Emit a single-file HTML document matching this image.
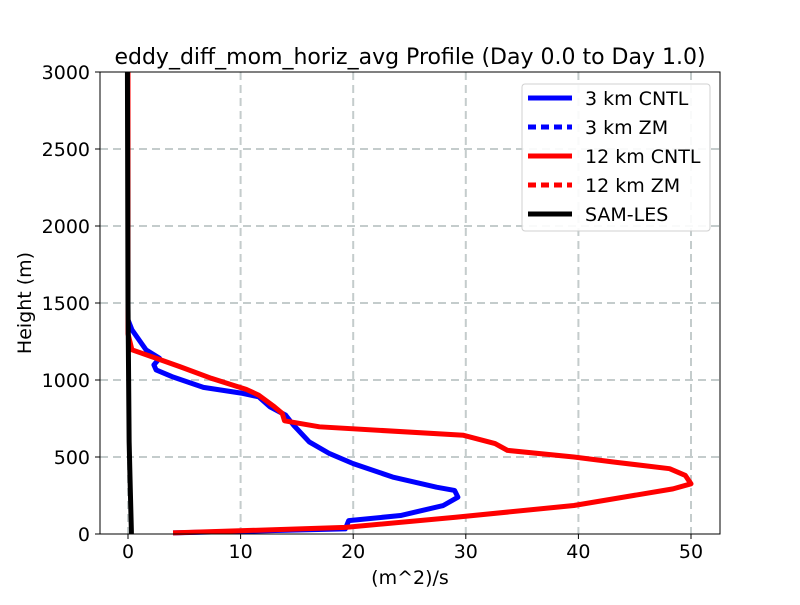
<!DOCTYPE html>
<html><head><meta charset="utf-8"><style>
body{margin:0;background:#fff;font-family:"Liberation Sans","DejaVu Sans",sans-serif}
svg text{font-family:"DejaVu Sans","Liberation Sans",sans-serif;fill:#000}
</style></head><body>
<svg id="chart" width="800" height="600" viewBox="0 0 800 600" xmlns="http://www.w3.org/2000/svg">
<rect width="800" height="600" fill="#fff"/>
<g id="grid"></g>
<g id="series"></g>
<rect x="100" y="72" width="620" height="462" fill="none" stroke="#000" stroke-width="1"/>
<g id="ticks"></g>
<text x="410" y="64" text-anchor="middle" font-size="22">eddy_diff_mom_horiz_avg Profile (Day 0.0 to Day 1.0)</text>
<text x="410" y="584" text-anchor="middle" font-size="19">(m^2)/s</text>
<text transform="translate(31,303) rotate(-90)" text-anchor="middle" font-size="19">Height (m)</text>
<g id="legend"></g>
</svg>
<script>
const xTicks=[0,10,20,30,40,50];
const yTicks=[0,500,1000,1500,2000,2500,3000];
const blueCntlX=[4,19.3,19.6,24.2,28,29.3,29,27.4,23.5,20,17.9,16.1,14.7,14,12.6,11.6,10.2,6.7,3.9,2.5,2.3,2.8,1.6,0.35,0,0,0];
const blueCntlH=[7,33,87,120,185,239,283,304,370,457,522,598,707,772,826,891,913,952,1022,1065,1098,1141,1196,1326,1391,2000,3000];
const redCntlX=[4,19.3,29.1,39.6,48.4,50,49.5,48.1,43.2,39.6,33.7,32.6,29.8,17,13.9,13.7,13,11.6,10.5,7.4,4.6,2.5,0.35,0,0];
const redCntlH=[7,43,109,185,293,326,380,424,467,500,543,587,641,696,735,783,826,902,939,1011,1087,1141,1196,1300,3000];
const lesX=[0.3,0.3,0.2,0.1,0,-0.05];
const lesH=[0,20,300,600,1500,3000];
const NS="http://www.w3.org/2000/svg";
const sx=v=>128+v*11.26;
const sy=h=>534-h*0.154;
function mk(tag,attrs,parent){const e=document.createElementNS(NS,tag);for(const k in attrs)e.setAttribute(k,attrs[k]);document.getElementById(parent).appendChild(e);return e;}
xTicks.forEach(t=>{
 const g=mk('line',{x1:sx(t),x2:sx(t),y1:72,y2:534,stroke:'#c4cccc','stroke-width':2,'stroke-dasharray':'8,5'},'grid');
 
 
 const tk=mk('line',{x1:sx(t),x2:sx(t),y1:534,y2:539,stroke:'#000'},'ticks');
 
 
 const tl=mk('text',{x:sx(t),y:558,'text-anchor':'middle','font-size':19},'ticks');tl.textContent=t;
 
 
});
yTicks.forEach(t=>{
 if(t>0&&t<3000){const g=mk('line',{x1:100,x2:720,y1:sy(t),y2:sy(t),stroke:'#c4cccc','stroke-width':2,'stroke-dasharray':'8,5'},'grid');
 
 }
 const tk=mk('line',{x1:95,x2:100,y1:sy(t),y2:sy(t),stroke:'#000'},'ticks');
 
 
 const tl=mk('text',{x:90,y:sy(t)+7,'text-anchor':'end','font-size':19},'ticks');tl.textContent=t;
 
 
});
function line(xs,hs,color,name){
 const p=mk('polyline',{points:xs.map((v,i)=>sx(v)+','+sy(hs[i])).join(' '),fill:'none',stroke:color,'stroke-width':5,'stroke-linejoin':'round'},'series');
 
 
}
line(blueCntlX,blueCntlH,'#0000ff','line-3km-cntl');
line(redCntlX,redCntlH,'#ff0000','line-12km-cntl');
line(lesX,lesH,'#000000','line-sam-les');
const legBox=mk('rect',{x:522,y:84,width:188,height:147,fill:'#fff',stroke:'#ccc',rx:3,opacity:0.9},'legend');


const legLabels=['3 km CNTL','3 km ZM','12 km CNTL','12 km ZM','SAM-LES'];
const legColors=['#0000ff','#0000ff','#ff0000','#ff0000','#000000'];
const legDash=['none','8,5','none','8,5','none'];
legLabels.forEach((lab,i)=>{
 const y=98+i*29;
 const l=mk('line',{x1:528,x2:572,y1:y,y2:y,stroke:legColors[i],'stroke-width':5,'stroke-dasharray':legDash[i]},'legend');
 
 
 const t=mk('text',{x:585,y:y+7,'font-size':19},'legend');t.textContent=lab;
 
 
});
</script>
</body></html>
